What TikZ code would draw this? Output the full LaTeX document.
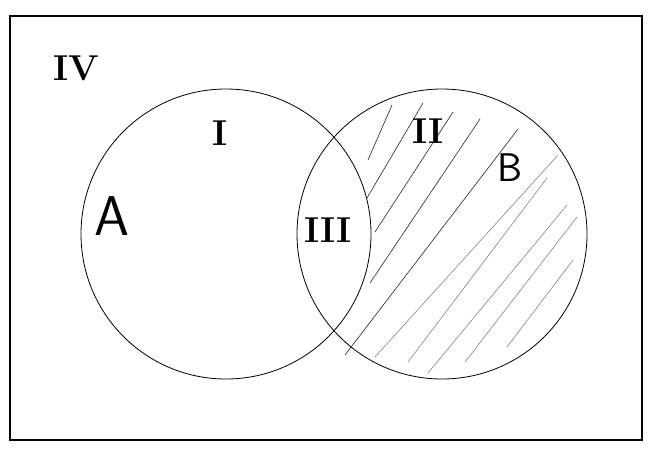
\documentclass[tikz,border=0pt]{standalone}
\begin{document}
\begin{tikzpicture}[x=1pt,y=-1pt,
  setcircle/.style={circle,draw=black,line width=0.8pt,inner sep=0pt,minimum size=290pt},
  roman/.style={font=\bfseries\fontsize{36}{36}\selectfont,inner sep=0pt},
  letter/.style={font=\sffamily\fontsize{44}{44}\selectfont,inner sep=0pt},
  hatch/.style={line width=0.6pt,black!85},
  hatchlight/.style={line width=0.5pt,black!55}]
\useasboundingbox (0,0) rectangle (660,456);
\fill[white] (0,0) rectangle (660,456);
\draw[line width=1.3pt] (10,16) rectangle (642,440);
\node[setcircle] (A) at (226,234) {};
\node[setcircle] (B) at (442,234) {};
% hatching
\draw[hatch] (368,160) -- (392,105);
\draw[hatch] (367,198) -- (423,103);
\draw[hatch] (375,232) -- (453,112);
\draw[hatch] (370,283) -- (480,119);
\draw[hatch] (345,355) -- (518,129);
\draw[hatchlight] (375,357) -- (558,155);
\draw[hatchlight] (408,362) -- (547,178);
\draw[hatchlight] (428,373) -- (567,205);
\draw[hatchlight] (465,362) -- (577,217);
\draw[hatchlight] (507,347) -- (573,260);
% labels
\node[roman] (IV) at (76,68) {IV};
\node[roman] (I) at (220,133) {I};
\node[roman] (II) at (428,131) {II};
\node[roman] (III) at (328,230) {III};
\node[letter,font=\sffamily\fontsize{56}{56}\selectfont] (lA) at (112,216) {A};
\node[letter,font=\sffamily\fontsize{40}{40}\selectfont] (lB) at (510,168) {B};
\end{tikzpicture}
\end{document}
